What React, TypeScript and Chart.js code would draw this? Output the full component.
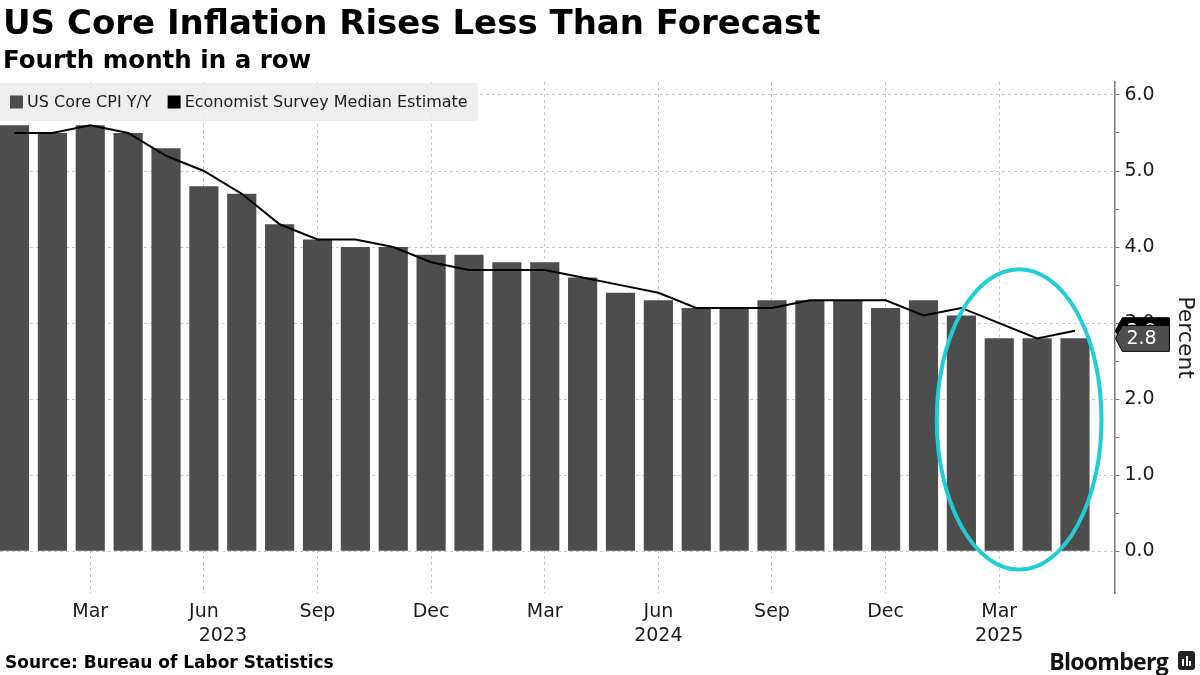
import React, { useEffect, useRef } from 'react';
import { Chart, registerables } from 'chart.js';

Chart.register(...registerables);

// ---- Data ----
const monthLabels = [
  'Jan 2023', 'Feb 2023', 'Mar 2023', 'Apr 2023', 'May 2023', 'Jun 2023',
  'Jul 2023', 'Aug 2023', 'Sep 2023', 'Oct 2023', 'Nov 2023', 'Dec 2023',
  'Jan 2024', 'Feb 2024', 'Mar 2024', 'Apr 2024', 'May 2024', 'Jun 2024',
  'Jul 2024', 'Aug 2024', 'Sep 2024', 'Oct 2024', 'Nov 2024', 'Dec 2024',
  'Jan 2025', 'Feb 2025', 'Mar 2025', 'Apr 2025', 'May 2025',
];
const coreCpi = [
  5.6, 5.5, 5.6, 5.5, 5.3, 4.8, 4.7, 4.3, 4.1, 4.0, 4.0, 3.9,
  3.9, 3.8, 3.8, 3.6, 3.4, 3.3, 3.2, 3.2, 3.3, 3.3, 3.3, 3.2,
  3.3, 3.1, 2.8, 2.8, 2.8,
];
const surveyEstimate = [
  5.5, 5.5, 5.6, 5.5, 5.2, 5.0, 4.7, 4.3, 4.1, 4.1, 4.0, 3.8,
  3.7, 3.7, 3.7, 3.6, 3.5, 3.4, 3.2, 3.2, 3.2, 3.3, 3.3, 3.3,
  3.1, 3.2, 3.0, 2.8, 2.9,
];
const quarterTickMonths = ['Mar', 'Jun', 'Sep', 'Dec'];
const yTickValues = [0, 0.5, 1, 1.5, 2, 2.5, 3, 3.5, 4, 4.5, 5, 5.5, 6];
const yearLabels = ['2023', '2024', '2025'];
const seriesNames = ['US Core CPI Y/Y', 'Economist Survey Median Estimate'];

const FONT = '"DejaVu Sans", Verdana, sans-serif';
const BAR_COLOR = '#4d4d4d';
const LINE_COLOR = '#000000';
const GRID_COLOR = '#c9c9c9';
const TEXT_COLOR = '#1a1a1a';

const monthIndex = (label: string) => monthLabels.indexOf(label);

// legend drawn as an overlay box in the top-left of the plot area
const legendPlugin = {
  id: 'overlayLegend',
  beforeDatasetsDraw(chart: any) {
    const { ctx, chartArea } = chart;
    ctx.save();
    ctx.font = `16px ${FONT}`;
    const pad = 10;
    const sq = 13;
    const gap = 4;
    const between = 16;
    const w1 = ctx.measureText(seriesNames[0]).width;
    const w2 = ctx.measureText(seriesNames[1]).width;
    const boxW = pad + sq + gap + w1 + between + sq + gap + w2 + pad;
    const boxTop = chartArea.top + 1;
    const boxH = 38;
    ctx.fillStyle = 'rgba(236,236,236,0.88)';
    ctx.fillRect(chartArea.left, boxTop, boxW, boxH);
    const cy = boxTop + boxH / 2;
    let x = chartArea.left + pad;
    ctx.fillStyle = BAR_COLOR;
    ctx.fillRect(x, cy - sq / 2, sq, sq);
    x += sq + gap;
    ctx.fillStyle = TEXT_COLOR;
    ctx.textBaseline = 'middle';
    ctx.textAlign = 'left';
    ctx.fillText(seriesNames[0], x, cy + 1);
    x += w1 + between;
    ctx.fillStyle = LINE_COLOR;
    ctx.fillRect(x, cy - sq / 2, sq, sq);
    x += sq + gap;
    ctx.fillStyle = TEXT_COLOR;
    ctx.fillText(seriesNames[1], x, cy + 1);
    ctx.restore();
  },
};

// highlight ellipse around the latest months + last-value tags on the axis
const annotationPlugin = {
  id: 'annotations',
  afterDatasetsDraw(chart: any) {
    const { ctx, scales } = chart;
    const xs = scales.x;
    const ys = scales.y;
    const xl = xs.getPixelForValue(monthIndex('Jan 2025') + 0.35);
    const xr = xs.getPixelForValue(monthIndex('May 2025') + 0.7);
    const yt = ys.getPixelForValue(3.71);
    const yb = ys.getPixelForValue(-0.24);
    ctx.save();
    ctx.strokeStyle = '#1fcdd6';
    ctx.lineWidth = 4;
    ctx.beginPath();
    ctx.ellipse((xl + xr) / 2, (yt + yb) / 2, (xr - xl) / 2, (yb - yt) / 2, 0, 0, Math.PI * 2);
    ctx.stroke();
    ctx.restore();
  },
  afterDraw(chart: any) {
    const { ctx, scales } = chart;
    const ys = scales.y;
    const axisX = ys.left;
    const tags: [number, string][] = [
      [surveyEstimate[surveyEstimate.length - 1], LINE_COLOR],
      [coreCpi[coreCpi.length - 1], BAR_COLOR],
    ];
    ctx.save();
    ctx.font = `19px ${FONT}`;
    for (const [v, color] of tags) {
      const y = ys.getPixelForValue(v);
      const h = 26;
      const tip = axisX + 1;
      const bodyL = axisX + 8;
      const bodyR = axisX + 55;
      ctx.beginPath();
      ctx.moveTo(tip, y);
      ctx.lineTo(bodyL, y - h / 2);
      ctx.lineTo(bodyR, y - h / 2);
      ctx.lineTo(bodyR, y + h / 2);
      ctx.lineTo(bodyL, y + h / 2);
      ctx.closePath();
      ctx.fillStyle = color;
      ctx.fill();
      ctx.strokeStyle = '#000';
      ctx.lineWidth = 1;
      ctx.stroke();
      ctx.fillStyle = '#ffffff';
      ctx.textAlign = 'left';
      ctx.textBaseline = 'middle';
      ctx.fillText(v.toFixed(1), bodyL + 4, y + 1);
    }
    // year labels under the month ticks
    const xs = scales.x;
    ctx.font = `19px ${FONT}`;
    ctx.fillStyle = TEXT_COLOR;
    ctx.textAlign = 'center';
    ctx.textBaseline = 'middle';
    const anchors = [
      (monthIndex('Jun 2023') + monthIndex('Jul 2023')) / 2,
      monthIndex('Jun 2024'),
      monthIndex('Mar 2025'),
    ];
    yearLabels.forEach((yl, i) => {
      ctx.fillText(yl, xs.getPixelForValue(anchors[i]), xs.bottom + 6);
    });
    ctx.restore();
  },
};

function ChartView() {
  const canvasRef = useRef<HTMLCanvasElement | null>(null);

  useEffect(() => {
    const canvas = canvasRef.current;
    if (!canvas) return;
    const chart = new Chart(canvas, {
      type: 'bar',
      data: {
        datasets: [
          {
            type: 'line',
            label: seriesNames[1],
            data: surveyEstimate.map((v, i) => ({ x: i, y: v })),
            borderColor: LINE_COLOR,
            borderWidth: 2,
            pointRadius: 0,
            tension: 0,
            order: 0,
          } as any,
          {
            type: 'bar',
            label: seriesNames[0],
            data: coreCpi.map((v, i) => ({ x: i, y: v })),
            backgroundColor: BAR_COLOR,
            barPercentage: 0.77,
            categoryPercentage: 1,
            order: 1,
          },
        ],
      },
      options: {
        animation: false,
        responsive: false,
        maintainAspectRatio: false,
        layout: { padding: { top: 82, left: 0, right: 0, bottom: 45 } },
        plugins: {
          legend: { display: false },
          tooltip: { enabled: false },
          title: { display: false },
        },
        scales: {
          x: {
            type: 'linear',
            min: -0.383,
            max: 29.04,
            offset: false,
            afterBuildTicks: (axis: any) => {
              axis.ticks = monthLabels
                .map((m, i) => ({ m, i }))
                .filter(({ m }) => quarterTickMonths.includes(m.slice(0, 3)))
                .map(({ i }) => ({ value: i }));
            },
            ticks: {
              autoSkip: false,
              maxRotation: 0,
              padding: 7,
              color: TEXT_COLOR,
              font: { family: FONT, size: 19 },
              callback: (v: any) => monthLabels[v as number]?.slice(0, 3) ?? '',
            },
            grid: {
              offset: false,
              color: GRID_COLOR,
              drawTicks: false,
              lineWidth: 1,
            },
            border: { display: false, dash: [3, 3] },
          },
          y: {
            position: 'right',
            min: -0.55,
            max: 6.17,
            afterBuildTicks: (axis: any) => {
              axis.ticks = yTickValues.map((v) => ({ value: v }));
            },
            ticks: {
              autoSkip: false,
              padding: 5,
              color: TEXT_COLOR,
              font: { family: FONT, size: 19 },
              callback: (v: any) => (Number.isInteger(v) ? Number(v).toFixed(1) : ''),
            },
            grid: {
              color: (ctx: any) =>
                ctx.tick && Number.isInteger(ctx.tick.value) ? GRID_COLOR : 'rgba(0,0,0,0)',
              tickColor: '#777777',
              tickLength: 5,
              tickBorderDash: [],
              lineWidth: 1,
            },
            border: { display: true, color: '#777777', width: 1.5, dash: [3, 3] },
            title: {
              display: true,
              text: 'Percent',
              color: TEXT_COLOR,
              font: { family: FONT, size: 22 },
              padding: { top: 2, bottom: 12 },
            },
          },
        },
      },
      plugins: [legendPlugin, annotationPlugin],
    });
    return () => chart.destroy();
  }, []);

  return <canvas ref={canvasRef} width={1200} height={675} style={{ position: 'absolute', left: 0, top: 0, width: 1200, height: 675 }} />;
}

export default function App() {
  return (
    <div style={{ position: 'fixed', left: 0, top: 0, width: 1200, height: 675, background: '#ffffff', overflow: 'hidden', fontFamily: FONT }}>
      <ChartView />
      <div style={{ position: 'absolute', left: 3, top: 2, fontSize: 34, fontWeight: 'bold', color: '#000', lineHeight: '40px', whiteSpace: 'nowrap' }}>
        US Core Inflation Rises Less Than Forecast
      </div>
      <div style={{ position: 'absolute', left: 3, top: 45, fontSize: 24.5, fontWeight: 'bold', color: '#000', lineHeight: '30px', whiteSpace: 'nowrap' }}>
        Fourth month in a row
      </div>
      <div style={{ position: 'absolute', left: 5, top: 651, fontSize: 17, fontWeight: 'bold', color: '#000', lineHeight: '22px', whiteSpace: 'nowrap' }}>
        Source: Bureau of Labor Statistics
      </div>
      <div style={{ position: 'absolute', right: 32, top: 647, fontSize: 23, fontWeight: 'bold', color: '#111', lineHeight: '28px', fontFamily: '"Open Sans", "Noto Sans", sans-serif', letterSpacing: -0.7, whiteSpace: 'nowrap' }}>
        Bloomberg
      </div>
      <div style={{ position: 'absolute', left: 1178, top: 651, width: 17, height: 19, background: '#222', borderRadius: 3 }}>
        <div style={{ position: 'absolute', left: 4, bottom: 4, width: 2, height: 7, background: '#fff' }} />
        <div style={{ position: 'absolute', left: 7.5, bottom: 4, width: 2, height: 10, background: '#fff' }} />
        <div style={{ position: 'absolute', left: 11, bottom: 4, width: 2, height: 5, background: '#fff' }} />
      </div>
    </div>
  );
}
